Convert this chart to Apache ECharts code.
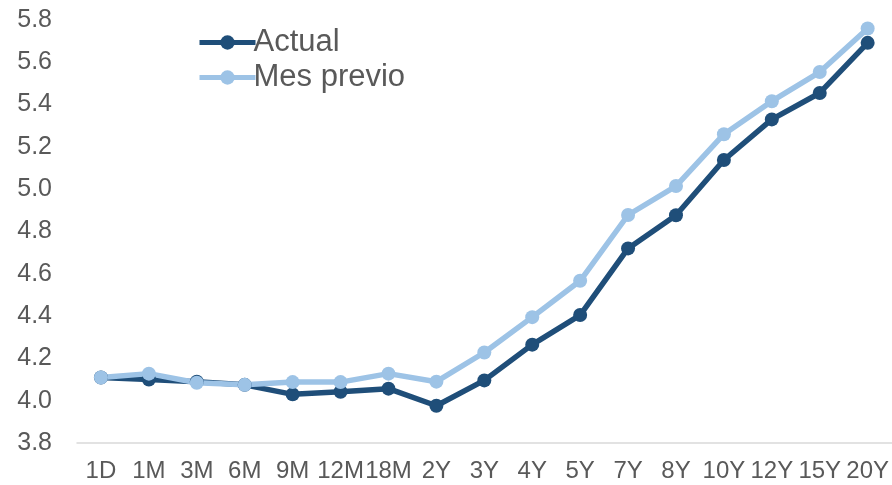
<!DOCTYPE html>
<html>
<head>
<meta charset="utf-8">
<script src="https://cdn.jsdelivr.net/npm/echarts@6/dist/echarts.min.js"></script>
<style>
html,body{margin:0;padding:0;background:#fff;}
#chart{width:892px;height:485px;}
</style>
</head>
<body>
<div id="chart"></div>
<script>
var categories = ['1D','1M','3M','6M','9M','12M','18M','2Y','3Y','4Y','5Y','7Y','8Y','10Y','12Y','15Y','20Y'];
var actual = [4.11,4.10,4.09,4.075,4.03,4.042,4.057,3.976,4.096,4.265,4.405,4.72,4.877,5.138,5.33,5.455,5.692];
var mesPrevio = [4.11,4.128,4.085,4.075,4.088,4.088,4.128,4.09,4.228,4.395,4.567,4.878,5.015,5.26,5.416,5.554,5.76];
var seriesNames = ['Actual','Mes previo'];
var yTicks = {min:3.8, max:5.8, interval:0.2};

var chart = echarts.init(document.getElementById('chart'));
var font = '"Liberation Sans", Arial, sans-serif';
chart.setOption({
  animation:false,
  grid:{left:77,right:0,top:20,bottom:42},
  legend:{
    orient:'vertical',
    left:192, top:22,
    itemWidth:56, itemHeight:18, itemGap:4,
    lineStyle:{width:5},
    textStyle:{fontFamily:font,fontSize:31,color:'#595959',padding:[0,0,0,-7]},
    data:seriesNames
  },
  xAxis:{
    type:'category',
    data:categories,
    boundaryGap:true,
    axisLine:{lineStyle:{color:'#d9d9d9',width:1.5}},
    axisTick:{show:false},
    axisLabel:{fontFamily:font,fontSize:24,color:'#595959',margin:16,interval:0}
  },
  yAxis:{
    type:'value',
    min:yTicks.min,max:yTicks.max,interval:yTicks.interval,
    splitLine:{show:false},
    axisLine:{show:false},
    axisTick:{show:false},
    axisLabel:{fontFamily:font,fontSize:25,color:'#595959',margin:25,
      formatter:function(v){return v.toFixed(1);}}
  },
  series:[
    {name:seriesNames[0],type:'line',data:actual,symbol:'circle',symbolSize:14,
     itemStyle:{color:'#1f4e79'},lineStyle:{color:'#1f4e79',width:5.5}},
    {name:seriesNames[1],type:'line',data:mesPrevio,symbol:'circle',symbolSize:14,
     itemStyle:{color:'#9dc3e6'},lineStyle:{color:'#9dc3e6',width:5.5}}
  ]
});
</script>
</body>
</html>
